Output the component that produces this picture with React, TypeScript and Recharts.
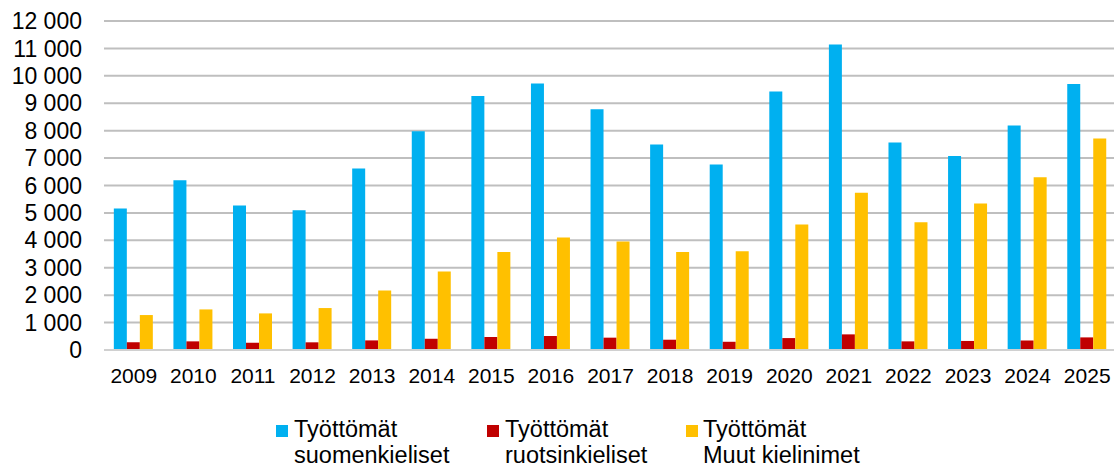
import React from "react";
import { BarChart, Bar, XAxis, YAxis, CartesianGrid, Legend } from "recharts";

const years = ["2009","2010","2011","2012","2013","2014","2015","2016","2017","2018","2019","2020","2021","2022","2023","2024","2025"];
const suomenkieliset = [5160,6190,5270,5100,6620,7980,9260,9720,8780,7500,6770,9430,11140,7570,7080,8190,9700];
const ruotsinkieliset = [280,315,265,280,350,410,475,510,450,375,300,435,570,315,330,350,460];
const muut = [1275,1480,1335,1530,2170,2865,3570,4100,3960,3570,3605,4575,5740,4660,5340,6300,7710];
const yTicks = [0,1000,2000,3000,4000,5000,6000,7000,8000,9000,10000,11000,12000];

const seriesNames = ["Työttömät\nsuomenkieliset", "Työttömät\nruotsinkieliset", "Työttömät\nMuut kielinimet"];
const colors = ["#00B0F0", "#C00000", "#FFC000"];

const data = years.map((y, i) => ({
  year: y,
  s: suomenkieliset[i],
  r: ruotsinkieliset[i],
  m: muut[i],
}));

const fmt = (v: number) => {
  const s = String(v);
  return s.length > 3 ? s.slice(0, s.length - 3) + " " + s.slice(-3) : s;
};

const font = "'Liberation Sans', Arial, sans-serif";

const legendPos = [
  { sq: 276, tx: 294 },
  { sq: 487, tx: 505 },
  { sq: 686, tx: 703 },
];

const LegendContent = () => (
  <div style={{ position: "relative", width: 1114, height: 60, fontFamily: font, fontSize: 23.5, color: "#000" }}>
    {seriesNames.map((n, i) => {
      const lines = n.split("\n");
      return (
        <React.Fragment key={i}>
          <div style={{ position: "absolute", left: legendPos[i].sq, top: 25, width: 12, height: 12, background: colors[i] }} />
          <div style={{ position: "absolute", left: legendPos[i].tx, top: 15.5, lineHeight: "26px", whiteSpace: "nowrap" }}>
            <div>{lines[0]}</div>
            <div>{lines[1]}</div>
          </div>
        </React.Fragment>
      );
    })}
  </div>
);

export default function App() {
  return (
    <div style={{ position: "absolute", left: 0, top: 0, width: 1114, height: 470, overflow: "hidden", background: "#fff" }}>
      <BarChart
        width={1120}
        height={470}
        data={data}
        margin={{ top: 21, right: 3, left: 0, bottom: 20 }}
        barGap={0}
        barCategoryGap="16.5%"
      >
        <CartesianGrid vertical={false} stroke="#BFBFBF" strokeWidth={2} />
        <XAxis
          dataKey="year"
          axisLine={{ stroke: "#D0D0D0", strokeWidth: 2 }}
          tickLine={false}
          tickSize={0}
          tickMargin={18}
          height={40}
          tick={{ fill: "#000", fontSize: 21, fontFamily: font }}
          interval={0}
        />
        <YAxis
          width={104}
          domain={[0, 12000]}
          ticks={yTicks}
          axisLine={false}
          tickLine={false}
          tickSize={0}
          tickMargin={22}
          tickFormatter={fmt}
          tick={{ fill: "#000", fontSize: 23, fontFamily: font }}
          interval={0}
        />
        <Legend
          content={<LegendContent />}
          wrapperStyle={{ position: "absolute", left: 0, top: 400, width: 1114, height: 60 }}
        />
        <Bar dataKey="s" fill={colors[0]} isAnimationActive={false} />
        <Bar dataKey="r" fill={colors[1]} isAnimationActive={false} />
        <Bar dataKey="m" fill={colors[2]} isAnimationActive={false} />
      </BarChart>
    </div>
  );
}
